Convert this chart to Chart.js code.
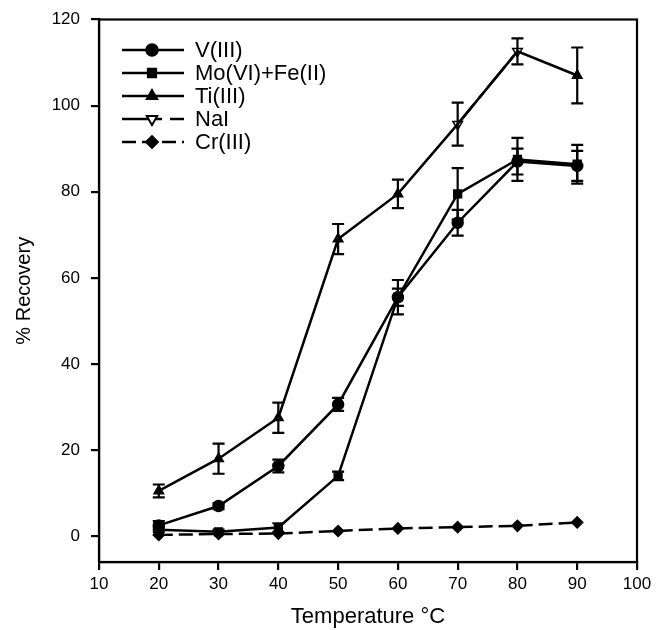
<!DOCTYPE html>
<html lang="en">
<head>
  <meta charset="UTF-8">
  <title>% Recovery vs Temperature</title>
  <script src="https://cdn.jsdelivr.net/npm/chart.js"></script>
  <style>
    body { margin: 0; background: #fff; }
    #wrap { width: 667px; height: 630px; }
  </style>
</head>
<body>
  <div id="wrap"><canvas id="recChart" width="667" height="630"></canvas></div>

  <script>
    // temperatures (°C)
    const temps = [20, 30, 40, 50, 60, 70, 80, 90];

    // % recovery values
    const vIII   = [2.5, 7, 16.3, 30.6, 55.5, 72.8, 87, 86];
    const vErr   = [1, 0.7, 1.5, 1.5, 2, 3, 3, 3.5];
    const moFe   = [1.5, 1, 2, 14, 55.5, 79.5, 87.5, 86.4];
    const moErr  = [0.5, 0.5, 1, 1, 4, 6, 5, 4.5];
    const tiIII  = [10.5, 18, 27.5, 69, 79.5, 95.7, 112.6, 107];
    const tiErr  = [1.5, 3.5, 3.5, 3.5, 3.3, null, null, 6.5];
    const naI    = [null, null, null, null, null, 95.7, 112.6, null];
    const naErr  = [null, null, null, null, null, 5, 3, null];
    const crIII  = [0.3, 0.5, 0.6, 1.2, 1.8, 2.1, 2.4, 3.2];

    const xTicks = [10, 20, 30, 40, 50, 60, 70, 80, 90, 100];
    const yTicks = [0, 20, 40, 60, 80, 100, 120];

    const toPts = (arr) => temps.map((t, i) => ({ x: t, y: arr[i] }));

    const FONT = "'Liberation Sans', Arial, sans-serif";

    // draws I-shaped error bars from dataset.err
    const errorBars = {
      id: "errorBars",
      afterDatasetsDraw(chart) {
        const { ctx, scales: { x, y } } = chart;
        ctx.save();
        ctx.strokeStyle = "#000";
        ctx.lineWidth = 2.2;
        chart.data.datasets.forEach((ds) => {
          if (!ds.err) return;
          ds.data.forEach((p, i) => {
            const e = ds.err[i];
            if (p.y == null || e == null) return;
            const px = x.getPixelForValue(p.x);
            const top = y.getPixelForValue(p.y + e);
            const bot = y.getPixelForValue(p.y - e);
            ctx.beginPath();
            ctx.moveTo(px, top); ctx.lineTo(px, bot);
            ctx.moveTo(px - 6, top); ctx.lineTo(px + 6, top);
            ctx.moveTo(px - 6, bot); ctx.lineTo(px + 6, bot);
            ctx.stroke();
          });
        });
        ctx.restore();
      }
    };

    // box around the plot + legend inside the top-left corner
    const frameAndLegend = {
      id: "frameAndLegend",
      afterDraw(chart) {
        const { ctx, chartArea: a } = chart;
        ctx.save();
        ctx.strokeStyle = "#000";
        ctx.lineWidth = 2.2;
        ctx.strokeRect(a.left, a.top, a.right - a.left, a.bottom - a.top);

        ctx.font = "22px " + FONT;
        ctx.textBaseline = "middle";
        chart.data.datasets.forEach((ds, i) => {
          const cy = 50 + i * 23;
          const x0 = 122, x1 = 184, cx = 152;
          ctx.beginPath();
          ctx.setLineDash(ds.borderDash || []);
          ctx.lineWidth = 2.5;
          ctx.moveTo(x0, cy); ctx.lineTo(x1, cy);
          ctx.stroke();
          ctx.setLineDash([]);
          Chart.helpers.drawPoint(ctx, {
            pointStyle: ds.pointStyle, radius: 5.5, rotation: ds.rotation || 0, borderWidth: 1.5
          }, cx, cy);
          ctx.fillStyle = ds.pointBackgroundColor;
          ctx.strokeStyle = "#000";
          ctx.lineWidth = 1.5;
          ctx.fill(); ctx.stroke();
          ctx.fillStyle = "#000";
          ctx.fillText(ds.label, 195, cy + 1);
        });
        ctx.restore();
      }
    };

    const common = {
      borderColor: "#000",
      pointBorderColor: "#000",
      pointBackgroundColor: "#000",
      borderWidth: 2.5,
      pointRadius: 5.5,
      pointBorderWidth: 1.5,
      tension: 0
    };

    new Chart(document.getElementById("recChart"), {
      type: "line",
      data: {
        datasets: [
          { ...common, label: "V(III)", data: toPts(vIII), err: vErr, pointStyle: "circle" },
          { ...common, label: "Mo(VI)+Fe(II)", data: toPts(moFe), err: moErr, pointStyle: "rect" },
          { ...common, label: "Ti(III)", data: toPts(tiIII), err: tiErr, pointStyle: "triangle",
            pointRadius: (c) => (naI[c.dataIndex] != null ? 0 : 5.5) },
          { ...common, label: "NaI", data: toPts(naI), err: naErr, pointStyle: "triangle", rotation: 180,
            pointBackgroundColor: "#fff", borderDash: [26, 8, 6, 8], spanGaps: false },
          { ...common, label: "Cr(III)", data: toPts(crIII), pointStyle: "rectRot", borderDash: [14, 6] }
        ]
      },
      options: {
        responsive: false,
        animation: false,
        layout: { padding: { left: 8, top: 16, right: 30, bottom: 0 } },
        plugins: { legend: { display: false }, tooltip: { enabled: false } },
        scales: {
          x: {
            type: "linear", min: 10, max: 100,
            afterBuildTicks: (s) => { s.ticks = xTicks.map((v) => ({ value: v })); },
            afterFit: (s) => { s.height = 68; },
            grid: { drawOnChartArea: false, drawTicks: true, tickLength: 8, color: "#000", lineWidth: 2.2 },
            border: { color: "#000", width: 2.2 },
            ticks: { color: "#000", font: { family: FONT, size: 17 }, padding: 4 },
            title: { display: true, text: "Temperature °C", color: "#000", font: { family: FONT, size: 22 }, padding: { top: 0, bottom: 0 } }
          },
          y: {
            type: "linear", min: -6, max: 120,
            afterBuildTicks: (s) => { s.ticks = yTicks.map((v) => ({ value: v })); },
            afterFit: (s) => { s.width = 91; },
            grid: { drawOnChartArea: false, drawTicks: true, tickLength: 8, color: "#000", lineWidth: 2.2 },
            border: { color: "#000", width: 2.2 },
            ticks: { color: "#000", font: { family: FONT, size: 17, lineHeight: 1 }, padding: 11 },
            title: { display: true, text: "% Recovery", color: "#000", font: { family: FONT, size: 20 } }
          }
        }
      },
      plugins: [errorBars, frameAndLegend]
    });
  </script>
</body>
</html>
